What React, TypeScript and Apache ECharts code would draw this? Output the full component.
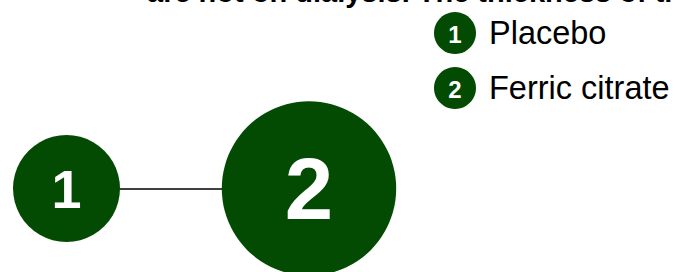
import React, { useEffect, useRef } from "react";
import * as echarts from "echarts";

// ---- data ----
const treatments = ["Placebo", "Ferric citrate"];
const nodeLabels = ["1", "2"];
const nodeIndex = [1, 2]; // position along network axis
const nodeRelativeSize = [1, 1.63]; // relative node weight
const edgePairs: [number, number][] = [[0, 1]];
const edgeTrials = [1];
const titleLine = "are not on dialysis. The thickness of the lines corresponds to the number of trials";

const GREEN = "#034b03";
const FONT = "'Liberation Sans', Arial, sans-serif";

export default function App() {
  const ref = useRef<HTMLDivElement>(null);
  useEffect(() => {
    if (!ref.current) return;
    const chart = echarts.init(ref.current, undefined, { renderer: "svg" });
    const baseSize = 107;
    const nodes = nodeIndex.map((x, i) => {
      const size = baseSize * nodeRelativeSize[i];
      return {
        name: nodeLabels[i],
        value: [x, 0],
        symbolSize: size,
        label: {
          show: true,
          position: "inside",
          formatter: nodeLabels[i],
          color: "#fff",
          fontWeight: "bold",
          fontFamily: FONT,
          fontSize: Math.round(size / 2),
        },
      };
    });
    const links = edgePairs.map(([s, t], i) => ({
      source: s,
      target: t,
      lineStyle: { width: 1.5 * edgeTrials[i], color: "#000", opacity: 1 },
    }));
    const legendGraphics: any[] = [];
    treatments.forEach((t, i) => {
      const cy = 33 + i * 55;
      legendGraphics.push({
        type: "circle",
        shape: { cx: 455, cy, r: 21 },
        style: { fill: GREEN },
      });
      legendGraphics.push({
        type: "text",
        x: 455,
        y: cy + 1,
        style: {
          text: nodeLabels[i],
          fill: "#fff",
          font: `bold 24px ${FONT}`,
          align: "center",
          verticalAlign: "middle",
        },
      });
      legendGraphics.push({
        type: "text",
        x: 489,
        y: cy,
        style: {
          text: t,
          fill: "#000",
          font: `32.5px ${FONT}`,
          align: "left",
          verticalAlign: "middle",
        },
      });
    });
    chart.setOption({
      animation: false,
      grid: { left: 66.5, width: 242.5, top: 138.5, height: 100 },
      xAxis: { type: "value", min: 1, max: 2, show: false },
      yAxis: { type: "value", min: -1, max: 1, show: false },
      graphic: [
        {
          type: "text",
          x: 147,
          y: -8,
          style: {
            text: titleLine,
            fill: "#000",
            font: `bold 29px ${FONT}`,
            align: "left",
            verticalAlign: "middle",
          },
        },
        ...legendGraphics,
      ],
      series: [
        {
          type: "graph",
          coordinateSystem: "cartesian2d",
          symbol: "circle",
          itemStyle: { color: GREEN },
          data: nodes,
          links,
          z: 2,
        },
      ],
    });
    return () => chart.dispose();
  }, []);
  return (
    <div
      ref={ref}
      style={{ position: "fixed", left: 0, top: 0, width: 675, height: 272, background: "#fff" }}
    />
  );
}
